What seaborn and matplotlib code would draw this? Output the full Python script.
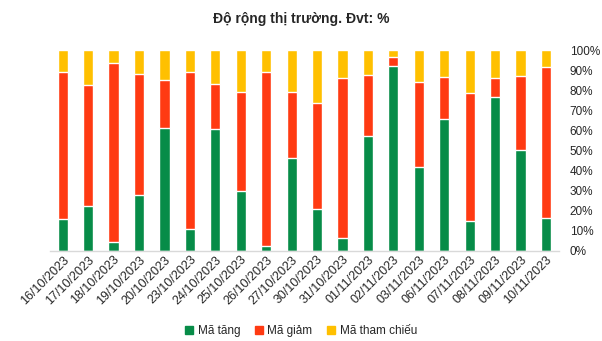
import matplotlib
matplotlib.use("Agg")
import matplotlib.pyplot as plt
import seaborn as sns
import pandas as pd
import numpy as np
from matplotlib.patches import Patch

dates = ["16/10/2023", "17/10/2023", "18/10/2023", "19/10/2023", "20/10/2023",
         "23/10/2023", "24/10/2023", "25/10/2023", "26/10/2023", "27/10/2023",
         "30/10/2023", "31/10/2023", "01/11/2023", "02/11/2023", "03/11/2023",
         "06/11/2023", "07/11/2023", "08/11/2023", "09/11/2023", "10/11/2023"]
ma_tang = [15.9, 22.6, 4.6, 27.9, 61.4, 10.9, 60.7, 29.9, 2.7, 46.4,
           20.9, 6.5, 57.4, 92.2, 41.8, 65.7, 14.9, 76.6, 50.4, 16.4]
ma_giam = [73.2, 60.0, 88.9, 60.2, 23.7, 78.2, 22.4, 49.2, 86.4, 32.7,
           52.7, 79.6, 30.2, 4.3, 42.3, 20.9, 63.7, 9.5, 36.7, 75.1]
ma_tham_chieu = [round(100 - a - b, 1) for a, b in zip(ma_tang, ma_giam)]

c_green = "#078C48"
c_red = "#FF3A12"
c_yellow = "#FFC000"

sns.set_theme(style="white")
plt.rcParams['font.family'] = ['Liberation Sans', 'DejaVu Sans']

df = pd.DataFrame({"date": dates, "tang": ma_tang, "giam": ma_giam, "tc": ma_tham_chieu})
df["top_red"] = df["tang"] + df["giam"]
df["top_all"] = df["top_red"] + df["tc"]

fig = plt.figure(figsize=(6.02, 3.41), dpi=100)
ax = fig.add_axes([0.083, 0.264, 0.845, 0.589])

sns.barplot(data=df, x="date", y="top_all", color=c_yellow, width=0.4, ax=ax, saturation=1)
sns.barplot(data=df, x="date", y="top_red", color=c_red, width=0.4, ax=ax, saturation=1)
sns.barplot(data=df, x="date", y="tang", color=c_green, width=0.4, ax=ax, saturation=1)

ax.set_ylim(0, 100)
ax.set_xlim(-0.5, len(dates) - 0.5)
ax.set_xlabel("")
ax.set_ylabel("")
ax.yaxis.tick_right()
ax.set_yticks(np.arange(0, 101, 10))
ax.set_yticklabels([f"{v}%" for v in range(0, 101, 10)], fontsize=8.5)
ax.tick_params(axis='y', length=0, pad=8)
ax.tick_params(axis='x', length=0, pad=2)
ax.set_xticks(range(len(dates)))
ax.set_xticklabels(dates, rotation=45, ha='right', rotation_mode='anchor', fontsize=9)
for s in ["top", "left", "right"]:
    ax.spines[s].set_visible(False)
ax.spines["bottom"].set_color("#D9D9D9")
ax.spines["bottom"].set_linewidth(1)
ax.grid(False)

fig.suptitle("Độ rộng thị trường. Đvt: %", fontsize=10, fontweight='bold', y=0.965)

handles = [Patch(color=c_green, label="Mã tăng"),
           Patch(color=c_red, label="Mã giảm"),
           Patch(color=c_yellow, label="Mã tham chiếu")]
fig.legend(handles=handles, loc='center', bbox_to_anchor=(0.5, 0.03), ncol=3, frameon=False,
           fontsize=8.5, handlelength=0.7, handleheight=0.7, handletextpad=0.4, columnspacing=1.2)

fig.savefig("out.png", dpi=100)
